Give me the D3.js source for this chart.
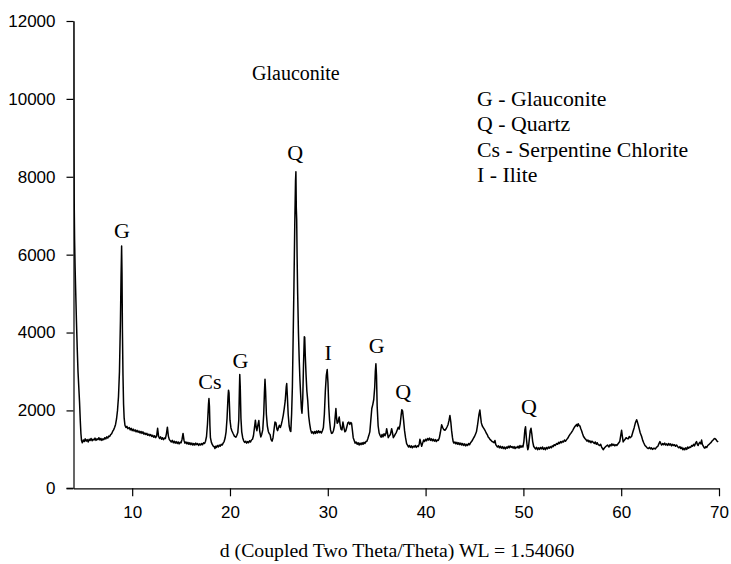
<!DOCTYPE html>
<html>
<head>
<meta charset="utf-8">
<script src="https://cdn.jsdelivr.net/npm/d3@7"></script>
<style>
  html, body { margin: 0; padding: 0; background: #fff; }
  svg { display: block; }
</style>
</head>
<body>
<svg id="chart" width="731" height="564"></svg>
<script>
// ---- data ----
const twoTheta = [
4.00,4.02,4.04,4.07,4.11,4.16,4.22,4.30,4.38,4.46,4.54,4.62,4.70,4.76,4.82,
4.9,5.0,5.1,5.2,5.3,5.4,5.5,5.6,5.7,5.8,5.9,6.0,6.1,6.2,6.3,6.4,6.5,6.6,6.7,6.8,6.9,7.0,7.1,7.2,7.3,7.4,7.5,7.6,7.7,7.8,7.9,
8.0,8.1,8.2,8.3,8.4,8.5,8.6,8.7,8.8,8.86,8.92,8.96,9.00,9.06,9.12,9.18,9.26,9.36,9.46,9.56,
9.7,9.8,9.9,10.0,10.1,10.2,10.3,10.4,10.5,10.6,10.7,10.8,10.9,11.0,11.1,11.2,11.3,11.4,11.5,11.6,11.7,11.8,11.9,12.0,12.1,12.2,12.3,12.4,12.5,12.6,12.7,12.8,12.9,13.0,13.1,13.2,13.3,13.4,13.5,13.6,13.7,13.8,13.9,14.0,14.1,14.2,14.3,14.4,14.5,14.6,14.7,14.8,14.9,15.0,15.1,15.2,15.3,15.4,15.5,15.6,15.7,15.8,15.9,16.0,16.1,16.2,16.3,16.4,16.5,16.6,16.7,16.8,16.9,17.0,17.1,17.2,17.3,17.4,17.5,17.6,17.7,17.8,17.85,17.9,17.95,18.0,18.1,18.2,18.3,18.4,18.46,18.5,18.6,18.7,18.8,18.9,19.0,19.1,19.2,19.3,19.4,19.5,19.6,19.7,19.8,19.85,19.9,19.95,20.0,20.1,20.2,20.33,20.45,20.6,20.7,20.8,20.9,20.96,21.0,21.05,21.12,21.2,21.3,21.4,21.5,21.6,21.7,21.8,21.9,22.0,22.1,22.2,22.3,22.4,22.5,22.6,22.68,22.75,22.85,22.95,23.05,23.15,23.25,23.35,23.45,23.52,23.58,23.64,23.72,23.82,23.92,24.02,24.1,24.2,24.3,24.4,24.5,24.6,24.7,24.8,24.87,24.95,25.05,25.15,25.25,25.35,25.45,25.55,25.65,25.75,25.8,25.86,25.95,26.05,26.15,26.22,26.3,26.38,26.46,26.54,26.62,26.7,26.74,26.78,26.82,26.86,26.92,27.0,27.08,27.15,27.22,27.3,27.36,27.44,27.52,27.6,27.64,27.7,27.78,27.86,27.95,28.05,28.15,28.25,28.35,28.45,28.55,28.65,28.75,28.85,28.95,29.05,29.15,29.25,29.35,29.45,29.55,29.65,29.75,29.85,29.94,30.02,30.1,30.18,30.28,30.38,30.48,30.58,30.68,30.76,30.83,30.9,30.96,31.05,31.12,31.17,31.25,31.35,31.45,31.55,31.65,31.75,31.85,31.95,32.05,32.15,32.25,32.35,32.43,32.52,32.6,32.7,32.8,32.9,33.0,33.1,33.2,33.3,33.4,33.5,33.6,33.7,33.8,33.9,34.0,34.1,34.2,34.3,34.4,34.5,34.6,34.7,34.8,34.86,34.92,34.98,35.05,35.15,35.25,35.35,35.45,35.55,35.65,35.75,35.85,35.95,36.02,36.1,36.18,36.3,36.4,36.53,36.62,36.7,36.8,36.9,37.0,37.1,37.2,37.3,37.4,37.5,37.57,37.65,37.75,37.85,37.95,38.06,38.15,38.25,38.35,38.45,38.55,38.65,38.75,38.85,38.95,39.05,39.15,39.25,39.35,39.42,39.5,39.6,39.7,39.8,39.9,40.0,40.1,40.2,40.3,40.4,40.5,40.6,40.7,40.8,40.9,41.0,41.1,41.2,41.3,41.4,41.5,41.64,41.75,41.85,41.98,42.1,42.2,42.3,42.4,42.49,42.58,42.66,42.75,42.82,42.9,43.0,43.1,43.2,43.3,43.4,43.5,43.6,43.7,43.8,43.9,44.0,44.1,44.2,44.3,44.4,44.5,44.6,44.7,44.8,44.9,45.0,45.1,45.2,45.3,45.38,45.46,45.55,45.62,45.7,45.8,45.9,46.0,46.07,46.2,46.3,46.4,46.5,46.6,46.7,46.8,46.91,47.0,47.09,47.18,47.26,47.35,47.45,47.55,47.65,47.75,47.85,47.95,48.05,48.15,48.25,48.35,48.45,48.55,48.65,48.75,48.85,48.95,49.05,49.15,49.25,49.35,49.45,49.55,49.65,49.75,49.85,49.95,50.05,50.15,50.22,50.3,50.38,50.45,50.52,50.6,50.7,50.78,50.86,50.95,51.05,51.15,51.25,51.35,51.45,51.55,51.65,51.75,51.85,51.95,52.05,52.15,52.25,52.35,52.45,52.55,52.65,52.75,52.85,52.95,53.05,53.15,53.25,53.4,53.5,53.6,53.7,53.8,53.9,54.0,54.1,54.2,54.3,54.42,54.55,54.65,54.75,54.85,54.95,55.05,55.15,55.25,55.35,55.44,55.52,55.6,55.7,55.78,55.87,55.95,56.05,56.15,56.29,56.4,56.5,56.6,56.7,56.8,56.9,57.0,57.14,57.25,57.35,57.45,57.55,57.65,57.8,57.9,58.0,58.16,58.3,58.45,58.6,58.75,58.85,58.95,59.05,59.15,59.25,59.35,59.45,59.55,59.7,59.85,59.95,60.04,60.12,60.2,60.3,60.4,60.5,60.6,60.72,60.82,60.92,61.06,61.2,61.32,61.45,61.58,61.66,61.75,61.85,61.95,62.09,62.2,62.3,62.43,62.55,62.65,62.77,62.9,63.0,63.1,63.2,63.35,63.5,63.6,63.75,63.85,63.96,64.05,64.13,64.25,64.35,64.45,64.55,64.65,64.75,64.85,64.95,65.05,65.15,65.25,65.35,65.45,65.55,65.67,65.8,65.9,66.0,66.1,66.2,66.3,66.4,66.5,66.6,66.7,66.8,66.9,67.0,67.1,67.2,67.3,67.4,67.5,67.6,67.7,67.8,67.87,67.95,68.05,68.15,68.22,68.3,68.4,68.5,68.56,68.65,68.75,68.85,68.95,69.07,69.2,69.3,69.4,69.5,69.58,69.7,69.8,69.92
];
const counts = [
12600,10500,8700,7400,6400,5700,5100,4300,3600,3000,2600,2200,1700,1400,1230,
1170,1240,1200,1270,1210,1250,1190,1260,1230,1280,1220,1260,1240,1290,1230,1270,1250,1300,1240,1280,1230,1270,1250,1300,1270,1320,1290,1340,1330,1380,1400,
1460,1500,1560,1640,1780,2000,2350,3000,4300,5400,6220,5500,4100,2900,2150,1800,1620,1560,1590,1530,
1560,1500,1540,1480,1520,1470,1500,1450,1490,1440,1470,1420,1460,1410,1450,1390,1420,1380,1410,1360,1390,1350,1380,1330,1360,1310,1350,1300,1340,1540,1330,1280,1320,1260,1300,1250,1290,1280,1400,1570,1340,1250,1220,1190,1230,1170,1210,1160,1200,1150,1190,1140,1180,1170,1260,1410,1230,1160,1190,1140,1180,1130,1170,1120,1160,1110,1150,1110,1160,1120,1150,1100,1140,1110,1150,1120,1170,1150,1210,1330,1650,2150,2305,2100,1600,1300,1180,1120,1080,1060,1020,1080,1050,1100,1060,1110,1080,1130,1110,1160,1200,1290,1450,1800,2350,2520,2450,2100,1750,1550,1470,1400,1340,1310,1360,1430,1750,2500,2920,2600,1800,1450,1300,1220,1180,1210,1160,1200,1170,1220,1190,1240,1260,1350,1550,1750,1560,1480,1620,1740,1450,1320,1390,1500,1900,2450,2800,2500,1900,1600,1460,1400,1380,1250,1210,1300,1500,1700,1680,1520,1480,1550,1620,1560,1640,1750,1880,2050,2250,2600,2690,2400,1900,1600,1480,1460,1900,2600,3900,5200,6700,7900,8130,7200,6900,6000,5000,4000,3290,2800,2440,2050,1930,2300,3200,3890,3880,3400,2900,2500,2250,1850,1650,1500,1420,1450,1400,1460,1410,1470,1420,1480,1430,1460,1420,1480,1560,1900,2500,2900,3050,2700,2100,1750,1500,1410,1420,1480,1600,1850,2050,1800,1670,1700,1780,1830,1650,1520,1500,1700,1560,1450,1480,1580,1680,1700,1640,1690,1670,1480,1300,1230,1160,1190,1130,1170,1110,1160,1120,1170,1130,1180,1150,1200,1210,1280,1360,1450,1750,2050,2150,2280,2600,3000,3200,2900,2100,1600,1420,1360,1310,1380,1320,1400,1350,1420,1530,1420,1300,1350,1380,1530,1420,1300,1340,1390,1430,1500,1570,1520,1650,1880,2020,1980,1750,1480,1300,1150,1110,1060,1100,1050,1090,1040,1080,1060,1100,1050,1090,1070,1140,1260,1180,1080,1160,1240,1200,1260,1220,1280,1240,1290,1230,1270,1220,1260,1210,1250,1200,1240,1230,1290,1420,1630,1560,1510,1490,1530,1580,1640,1750,1870,1700,1480,1300,1200,1160,1190,1140,1180,1130,1170,1120,1160,1110,1150,1100,1140,1090,1130,1100,1150,1120,1170,1200,1240,1290,1330,1390,1450,1600,1750,1900,2010,1850,1680,1600,1560,1520,1490,1420,1380,1320,1290,1250,1230,1200,1190,1170,1230,1120,1090,1060,1090,1040,1080,1030,1070,1020,1060,1010,1060,1030,1080,1040,1090,1050,1070,1030,1070,1020,1060,1040,1080,1030,1100,1050,1090,1060,1200,1500,1580,1300,1100,990,1050,1250,1480,1540,1400,1200,1080,1040,1010,1050,990,1040,1000,1050,1010,1060,1000,1040,990,1050,1010,1060,1030,1070,1040,1090,1070,1120,1100,1150,1130,1180,1150,1200,1170,1210,1190,1240,1210,1250,1290,1340,1380,1410,1450,1490,1540,1580,1610,1640,1590,1660,1610,1600,1530,1480,1400,1330,1280,1250,1210,1240,1190,1220,1170,1210,1180,1150,1190,1130,1170,1120,1100,1130,1060,990,1040,1080,1110,1060,1120,1090,1140,1100,1130,1090,1120,1100,1150,1200,1350,1490,1330,1190,1230,1260,1300,1280,1270,1330,1300,1330,1450,1550,1680,1760,1700,1620,1520,1420,1330,1230,1170,1100,1070,1040,1020,1050,1010,1040,1000,1030,1010,1050,1080,1140,1200,1150,1110,1150,1120,1160,1110,1140,1100,1150,1110,1140,1090,1130,1100,1120,1080,1110,1060,1040,1070,1020,1050,990,1030,990,1040,1000,1060,1030,1060,1050,1100,1080,1130,1090,1160,1200,1120,1100,1150,1180,1140,1240,1130,1080,1040,1030,1070,1050,1100,1120,1150,1180,1220,1240,1270,1280,1250,1210,1190
];
const yTicks = [0, 2000, 4000, 6000, 8000, 10000, 12000];
const xTicks = [10, 20, 30, 40, 50, 60, 70];
const peakLabels = ["G", "Cs", "G", "Q", "I", "G", "Q", "Q"];
const peakLabelX = [8.95, 17.95, 21.07, 26.67, 30.04, 34.99, 37.71, 50.56];
const peakLabelY = [6430, 2550, 3100, 8430, 3300, 3480, 2290, 1910];
const legendLines = ["G - Glauconite", "Q - Quartz", "Cs - Serpentine Chlorite", "I - Ilite"];
const chartTitle = "Glauconite";
const xAxisTitle = "d (Coupled Two Theta/Theta) WL = 1.54060";

// ---- drawing ----
const svg = d3.select("#chart");
const x = d3.scaleLinear().domain([4, 70]).range([73.5, 719]);
const y = d3.scaleLinear().domain([0, 12000]).range([488.3, 21]);
const serif = "'Liberation Serif','Times New Roman',serif";
const sans = "'Liberation Sans',Arial,sans-serif";

svg.append("defs").append("clipPath").attr("id", "plotclip")
  .append("rect").attr("x", 73.5).attr("y", 21).attr("width", 719 - 73.5 + 2).attr("height", 488.3 - 21);

const pts = twoTheta.map((t, i) => [t, counts[i]]);
svg.append("path")
  .datum(pts)
  .attr("clip-path", "url(#plotclip)")
  .attr("fill", "none")
  .attr("stroke", "#000")
  .attr("stroke-width", 1.5)
  .attr("stroke-linejoin", "round")
  .attr("d", d3.line().x(d => x(d[0])).y(d => y(d[1])));

const yAxis = svg.append("g")
  .attr("transform", "translate(73.5,0)")
  .call(d3.axisLeft(y).tickValues(yTicks).tickFormat(d3.format("d")).tickSize(7).tickPadding(11).tickSizeOuter(0));
const xAxis = svg.append("g")
  .attr("transform", "translate(0,488.3)")
  .call(d3.axisBottom(x).tickValues(xTicks).tickFormat(d3.format("d")).tickSize(8).tickPadding(10).tickSizeOuter(0));
[yAxis, xAxis].forEach(g => {
  g.selectAll("path.domain").attr("stroke", "#000").attr("stroke-width", 1.2);
  g.selectAll(".tick line").attr("stroke", "#000").attr("stroke-width", 1.2);
  g.selectAll(".tick text").attr("fill", "#000").style("font-family", sans).style("font-size", "17px");
});
// extend x-axis line to the left to meet the 0 tick
xAxis.append("line").attr("x1", 66.5).attr("x2", 73.5).attr("y1", 0).attr("y2", 0)
  .attr("stroke", "#000").attr("stroke-width", 1.2);

// peak labels
svg.append("g").selectAll("text")
  .data(peakLabels)
  .join("text")
  .attr("x", (d, i) => x(peakLabelX[i]))
  .attr("y", (d, i) => y(peakLabelY[i]))
  .attr("text-anchor", "middle")
  .style("font-family", serif)
  .style("font-size", "22px")
  .text(d => d);

// title
svg.append("text")
  .attr("x", 252).attr("y", 80)
  .style("font-family", serif).style("font-size", "20px")
  .text(chartTitle);

// legend
svg.append("g").selectAll("text")
  .data(legendLines)
  .join("text")
  .attr("x", 477)
  .attr("y", (d, i) => 106 + i * 25.4)
  .style("font-family", serif)
  .style("font-size", "21.8px")
  .text(d => d);

// x-axis title
svg.append("text")
  .attr("x", 397).attr("y", 557)
  .attr("text-anchor", "middle")
  .style("font-family", serif).style("font-size", "19.8px")
  .text(xAxisTitle);
</script>
</body>
</html>
